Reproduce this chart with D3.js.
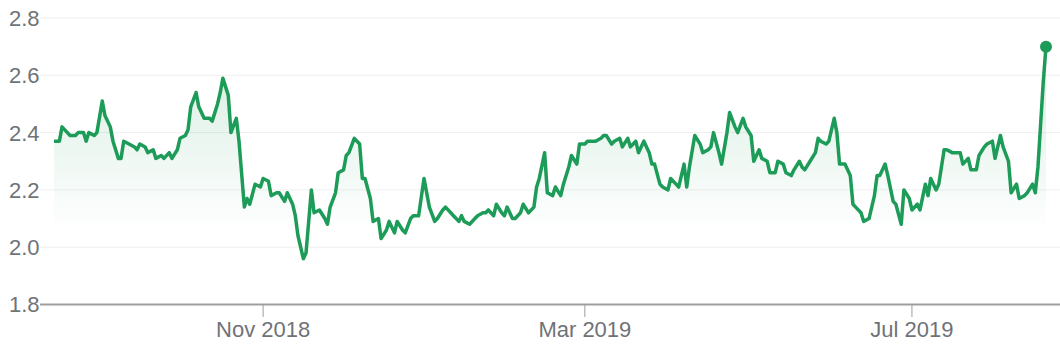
<!DOCTYPE html>
<html>
<head>
<meta charset="utf-8">
<script src="https://cdn.jsdelivr.net/npm/d3@7"></script>
<style>
  html, body { margin: 0; padding: 0; background: #fff; }
  svg { display: block; font-family: "Liberation Sans", Arial, sans-serif; }
  .grid line { stroke: #efefef; stroke-width: 1; }
  .tick-label { fill: #6f7378; font-size: 22px; }
</style>
</head>
<body>
<svg id="chart"></svg>
<script>
var dates = [
  "2018-08-15","2018-08-17","2018-08-18","2018-08-20","2018-08-21","2018-08-23","2018-08-24","2018-08-26","2018-08-27","2018-08-28","2018-08-30","2018-08-31",
  "2018-09-02","2018-09-03","2018-09-05","2018-09-06","2018-09-08","2018-09-09","2018-09-10","2018-09-12","2018-09-14","2018-09-15","2018-09-16","2018-09-18","2018-09-19","2018-09-21","2018-09-22","2018-09-24","2018-09-25","2018-09-27","2018-09-28","2018-09-30",
  "2018-10-01","2018-10-03","2018-10-04","2018-10-05","2018-10-07","2018-10-08","2018-10-10","2018-10-12","2018-10-13","2018-10-15","2018-10-16","2018-10-17","2018-10-19","2018-10-20","2018-10-22","2018-10-23","2018-10-25","2018-10-26","2018-10-27","2018-10-29","2018-10-31",
  "2018-11-01","2018-11-03","2018-11-04","2018-11-06","2018-11-07","2018-11-09","2018-11-10","2018-11-12","2018-11-13","2018-11-14","2018-11-16","2018-11-17","2018-11-19","2018-11-20","2018-11-22","2018-11-24","2018-11-25","2018-11-26","2018-11-28","2018-11-29",
  "2018-12-01","2018-12-02","2018-12-03","2018-12-05","2018-12-07","2018-12-08","2018-12-09","2018-12-11","2018-12-12","2018-12-14","2018-12-15","2018-12-17","2018-12-18","2018-12-20","2018-12-21","2018-12-23","2018-12-24","2018-12-26","2018-12-27","2018-12-29","2018-12-31",
  "2019-01-02","2019-01-04","2019-01-05","2019-01-07","2019-01-08","2019-01-10","2019-01-11","2019-01-13","2019-01-14","2019-01-15","2019-01-17","2019-01-19","2019-01-20","2019-01-22","2019-01-23","2019-01-24","2019-01-26","2019-01-27","2019-01-29","2019-01-30","2019-01-31",
  "2019-02-02","2019-02-03","2019-02-05","2019-02-06","2019-02-08","2019-02-10","2019-02-11","2019-02-12","2019-02-14","2019-02-15","2019-02-17","2019-02-18","2019-02-20","2019-02-21","2019-02-23","2019-02-24","2019-02-26","2019-02-27",
  "2019-03-01","2019-03-02","2019-03-04","2019-03-05","2019-03-07","2019-03-08","2019-03-09","2019-03-11","2019-03-12","2019-03-14","2019-03-15","2019-03-17","2019-03-18","2019-03-20","2019-03-21","2019-03-23","2019-03-25","2019-03-26","2019-03-27","2019-03-29","2019-03-30",
  "2019-04-01","2019-04-02","2019-04-04","2019-04-05","2019-04-07","2019-04-08","2019-04-09","2019-04-11","2019-04-13","2019-04-14","2019-04-16","2019-04-17","2019-04-18","2019-04-20","2019-04-21","2019-04-23","2019-04-24","2019-04-26","2019-04-27","2019-04-29","2019-04-30",
  "2019-05-02","2019-05-03","2019-05-05","2019-05-06","2019-05-08","2019-05-09","2019-05-11","2019-05-12","2019-05-14","2019-05-15","2019-05-17","2019-05-18","2019-05-20","2019-05-21","2019-05-22","2019-05-24","2019-05-26","2019-05-27","2019-05-28","2019-05-30","2019-05-31",
  "2019-06-02","2019-06-03","2019-06-04","2019-06-06","2019-06-08","2019-06-09","2019-06-10","2019-06-12","2019-06-13","2019-06-15","2019-06-17","2019-06-18","2019-06-19","2019-06-21","2019-06-22","2019-06-24","2019-06-25","2019-06-27","2019-06-28","2019-06-30",
  "2019-07-01","2019-07-03","2019-07-04","2019-07-06","2019-07-07","2019-07-08","2019-07-10","2019-07-11","2019-07-13","2019-07-14","2019-07-16","2019-07-17","2019-07-19","2019-07-20","2019-07-22","2019-07-23","2019-07-25","2019-07-26","2019-07-28","2019-07-29","2019-07-31",
  "2019-08-01","2019-08-03","2019-08-04","2019-08-06","2019-08-07","2019-08-09","2019-08-10","2019-08-12","2019-08-13","2019-08-15","2019-08-16","2019-08-17","2019-08-18","2019-08-19","2019-08-20"
];

var prices = [
  2.37,2.37,2.42,2.40,2.39,2.39,2.40,2.40,2.37,2.40,2.39,2.40,
  2.51,2.46,2.42,2.37,2.31,2.31,2.37,2.36,2.35,2.34,2.36,2.35,2.33,2.34,2.31,2.32,2.31,2.33,2.31,2.34,
  2.38,2.39,2.41,2.49,2.54,2.49,2.45,2.45,2.44,2.50,2.54,2.59,2.53,2.40,2.45,2.37,2.14,2.17,2.15,2.22,2.21,
  2.24,2.23,2.18,2.19,2.19,2.16,2.19,2.15,2.11,2.04,1.96,1.98,2.20,2.12,2.13,2.10,2.08,2.14,2.19,2.26,
  2.27,2.32,2.33,2.38,2.36,2.24,2.24,2.17,2.09,2.10,2.03,2.06,2.09,2.05,2.09,2.06,2.05,2.10,2.11,2.11,2.24,
  2.14,2.09,2.10,2.13,2.14,2.12,2.11,2.09,2.11,2.09,2.08,2.10,2.11,2.12,2.12,2.13,2.11,2.15,2.12,2.11,2.14,
  2.10,2.10,2.12,2.15,2.12,2.14,2.21,2.24,2.33,2.19,2.18,2.21,2.18,2.22,2.28,2.32,2.29,2.36,
  2.36,2.37,2.37,2.37,2.38,2.39,2.39,2.36,2.37,2.38,2.35,2.38,2.35,2.37,2.33,2.37,2.33,2.29,2.29,2.22,2.21,
  2.20,2.24,2.22,2.21,2.29,2.21,2.28,2.39,2.36,2.33,2.34,2.35,2.40,2.33,2.29,2.40,2.47,2.42,2.40,2.45,2.42,
  2.39,2.30,2.34,2.31,2.30,2.26,2.26,2.30,2.29,2.26,2.25,2.27,2.30,2.28,2.27,2.30,2.33,2.38,2.37,2.36,2.37,
  2.45,2.40,2.29,2.29,2.25,2.15,2.14,2.12,2.09,2.10,2.18,2.25,2.25,2.29,2.25,2.16,2.15,2.08,2.20,2.17,
  2.13,2.15,2.13,2.22,2.18,2.24,2.20,2.22,2.34,2.34,2.33,2.33,2.33,2.29,2.31,2.27,2.27,2.32,2.35,2.36,2.37,
  2.31,2.39,2.35,2.30,2.19,2.22,2.17,2.18,2.19,2.22,2.19,2.28,2.43,2.58,2.70
];

var yTicks = [1.8, 2.0, 2.2, 2.4, 2.6, 2.8];
var xTicks = ["2018-11-01", "2019-03-01", "2019-07-01"];

var width = 1060,
    height = 345;

var green = "#1d9b58";

var parseDate = d3.timeParse("%Y-%m-%d");
var data = dates.map(function(d, i) { return { date: parseDate(d), value: prices[i] }; });

var svg = d3.select("#chart")
  .attr("width", width)
  .attr("height", height);

var x = d3.scaleTime()
  .domain(d3.extent(data, function(d) { return d.date; }))
  .range([54, 1046]);

var y = d3.scaleLinear()
  .domain([1.8, 2.8])
  .range([304.5, 18]);

var gridLeft = 40;

// horizontal grid lines
svg.append("g")
    .attr("class", "grid")
  .selectAll("line")
  .data(yTicks.slice(1))
  .enter().append("line")
    .attr("x1", gridLeft)
    .attr("x2", width)
    .attr("y1", function(d) { return y(d); })
    .attr("y2", function(d) { return y(d); });

// y labels
svg.append("g")
  .selectAll("text")
  .data(yTicks)
  .enter().append("text")
    .attr("class", "tick-label")
    .attr("x", 39.5)
    .attr("y", function(d) { return y(d); })
    .attr("dy", "0.36em")
    .attr("text-anchor", "end")
    .text(d3.format(".1f"));

// area fill with fading gradient
var grad = svg.append("defs").append("linearGradient")
    .attr("id", "fade")
    .attr("gradientUnits", "userSpaceOnUse")
    .attr("x1", 0).attr("x2", 0)
    .attr("y1", y(2.6)).attr("y2", y(2.05));
grad.append("stop").attr("offset", "0%").attr("stop-color", green).attr("stop-opacity", 0.15);
grad.append("stop").attr("offset", "100%").attr("stop-color", green).attr("stop-opacity", 0);

var area = d3.area()
  .x(function(d) { return x(d.date); })
  .y0(y(1.8))
  .y1(function(d) { return y(d.value); });

svg.append("path")
  .datum(data)
  .attr("d", area)
  .attr("fill", "url(#fade)");

// x axis
var xAxis = svg.append("g");
xAxis.append("line")
  .attr("x1", gridLeft)
  .attr("x2", width)
  .attr("y1", y(1.8))
  .attr("y2", y(1.8))
  .attr("stroke", "#9e9e9e")
  .attr("stroke-width", 2);

var ticks = xAxis.selectAll("g.xtick")
  .data(xTicks.map(parseDate))
  .enter().append("g")
    .attr("class", "xtick")
    .attr("transform", function(d) { return "translate(" + x(d) + ",0)"; });

ticks.append("line")
  .attr("y1", y(1.8))
  .attr("y2", 317)
  .attr("stroke", "#9e9e9e")
  .attr("stroke-width", 1);

ticks.append("text")
  .attr("class", "tick-label")
  .attr("y", 337)
  .attr("text-anchor", "middle")
  .text(d3.timeFormat("%b %Y"));

// price line
var line = d3.line()
  .x(function(d) { return x(d.date); })
  .y(function(d) { return y(d.value); });

svg.append("path")
  .datum(data)
  .attr("d", line)
  .attr("fill", "none")
  .attr("stroke", green)
  .attr("stroke-width", 3.5)
  .attr("stroke-linejoin", "round");

var last = data[data.length - 1];
svg.append("circle")
  .attr("cx", x(last.date))
  .attr("cy", y(last.value))
  .attr("r", 6)
  .attr("fill", green);
</script>
</body>
</html>
